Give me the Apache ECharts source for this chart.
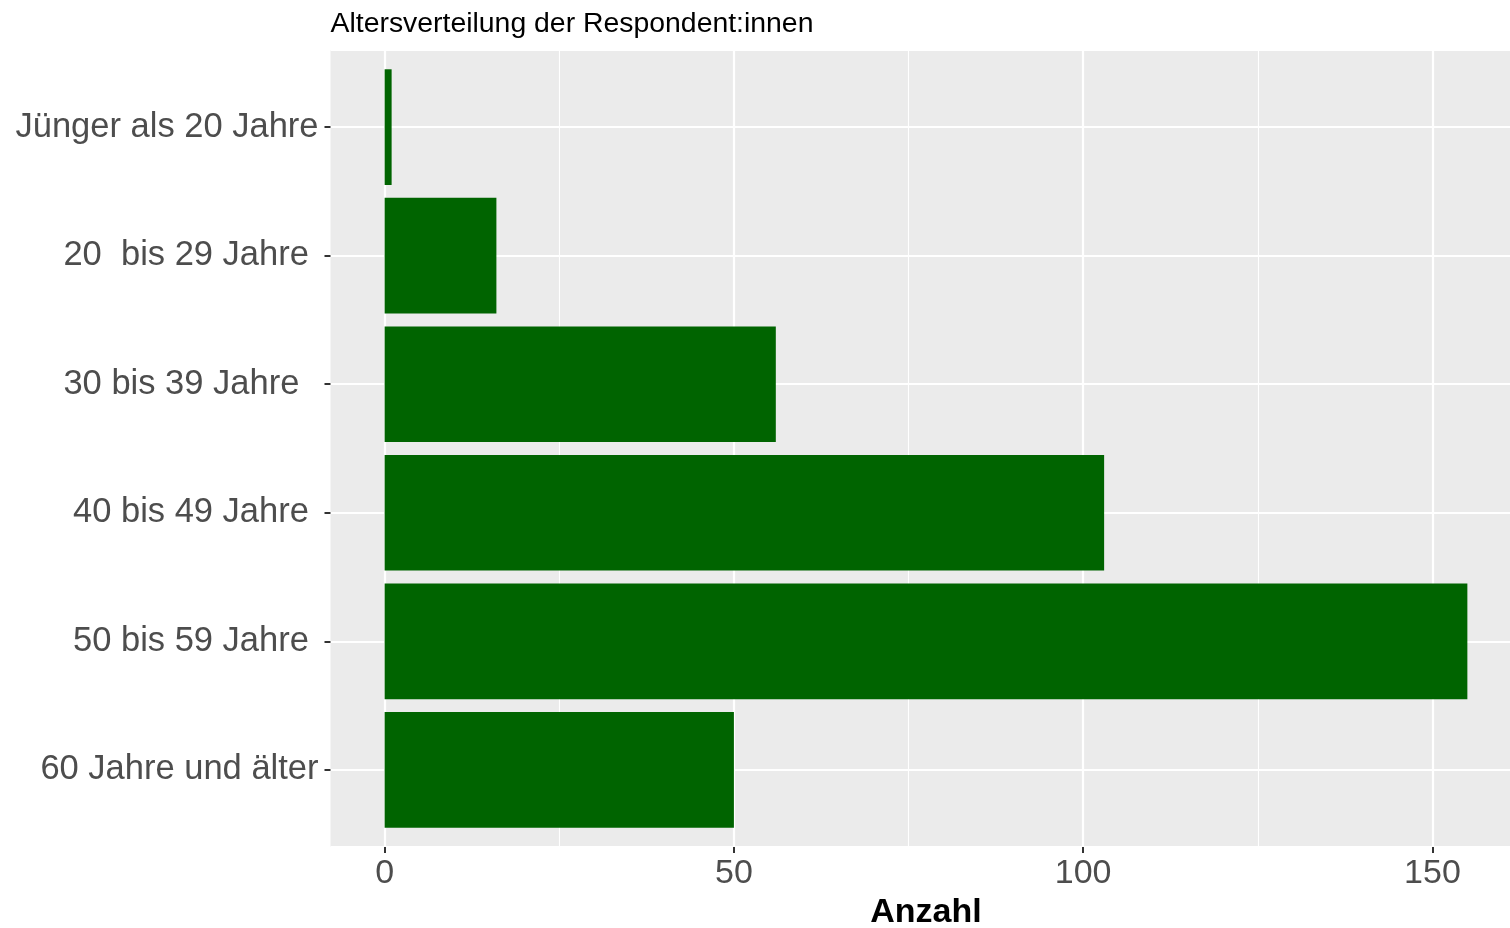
<!DOCTYPE html>
<html>
<head>
<meta charset="utf-8">
<script src="https://cdn.jsdelivr.net/npm/echarts@6/dist/echarts.min.js"></script>
<style>
  html, body { margin: 0; padding: 0; background: #fff; }
  #chart { width: 1510px; height: 928px; }
</style>
</head>
<body>
<div id="chart"></div>
<script>
// data
const categories = [
  "Jünger als 20 Jahre",
  "20  bis 29 Jahre ",
  "30 bis 39 Jahre  ",
  "40 bis 49 Jahre ",
  "50 bis 59 Jahre ",
  "60 Jahre und älter"
];
const counts = [1, 16, 56, 103, 155, 50];
const xBreaks = [0, 50, 100, 150];
const xMinorBreaks = [25, 75, 125];

const font = "Liberation Sans, Arial, Helvetica, sans-serif";
const panelLeft = 330.5, panelTop = 50, panelWidth = 1191, panelHeight = 797;
// ggplot expands discrete axis by 0.6 on each side -> 6.2 units
const unit = panelHeight / 6.2;
const xMin = -7.75, xMax = 162.75;

const chart = echarts.init(document.getElementById("chart"));

chart.setOption({
  animation: false,
  backgroundColor: "#ffffff",
  textStyle: { fontFamily: font },
  title: {
    text: "Altersverteilung der Respondent:innen",
    left: panelLeft,
    top: 10,
    padding: 0,
    textStyle: { fontFamily: font, fontSize: 28.4, fontWeight: "normal", color: "#000" }
  },
  grid: [
    {
      left: panelLeft, top: panelTop, width: panelWidth, height: panelHeight,
      show: true, backgroundColor: "#EBEBEB", borderWidth: 0,
      outerBoundsMode: "none"
    },
    {
      left: panelLeft, top: panelTop + unit * 0.1, width: panelWidth, height: unit * 6,
      show: false, outerBoundsMode: "none"
    }
  ],
  xAxis: [
    {
      gridIndex: 0,
      type: "value",
      min: xMin,
      max: xMax,
      splitNumber: 3,
      axisLine: { show: false, onZero: false },
      axisTick: {
        show: true, length: 6, customValues: xBreaks,
        lineStyle: { color: "#333333", width: 2 }
      },
      axisLabel: {
        customValues: xBreaks,
        margin: 10,
        fontFamily: font, fontSize: 34, color: "#4D4D4D"
      },
      splitLine: { show: true, lineStyle: { color: "#ffffff", width: 2.2 } },
      name: "Anzahl",
      nameLocation: "middle",
      nameGap: 49,
      nameTextStyle: { fontFamily: font, fontSize: 34, fontWeight: "bold", color: "#000" }
    },
    {
      gridIndex: 1,
      type: "value",
      min: xMin,
      max: xMax,
      show: false
    }
  ],
  yAxis: [
    {
      gridIndex: 0,
      type: "value",
      min: 0.4,
      max: 6.6,
      splitNumber: 6,
      inverse: true,
      axisLine: { show: false, onZero: false },
      axisTick: { show: false },
      axisLabel: { show: false },
      splitLine: { show: true, lineStyle: { color: "#ffffff", width: 2.2 } }
    },
    {
      gridIndex: 1,
      type: "category",
      data: categories,
      inverse: true,
      axisLine: { show: false, onZero: false },
      axisTick: {
        show: true, alignWithLabel: true, length: 6,
        lineStyle: { color: "#333333", width: 2 }
      },
      axisLabel: {
        margin: 12,
        padding: [7, 0, 0, 0],
        fontFamily: font, fontSize: 34.5, color: "#4D4D4D"
      },
      splitLine: { show: false }
    }
  ],
  series: [
    {
      type: "scatter",
      xAxisIndex: 0,
      yAxisIndex: 0,
      data: [],
      silent: true,
      markLine: {
        silent: true,
        z: 1,
        symbol: "none",
        label: { show: false },
        lineStyle: { color: "#ffffff", width: 1.1, type: "solid" },
        emphasis: { disabled: true },
        data: xMinorBreaks.map(v => ({ xAxis: v }))
      }
    },
    {
      type: "bar",
      xAxisIndex: 1,
      yAxisIndex: 1,
      z: 3,
      barWidth: "90%",
      data: counts,
      itemStyle: { color: "#006400" }
    }
  ]
});
</script>
</body>
</html>
